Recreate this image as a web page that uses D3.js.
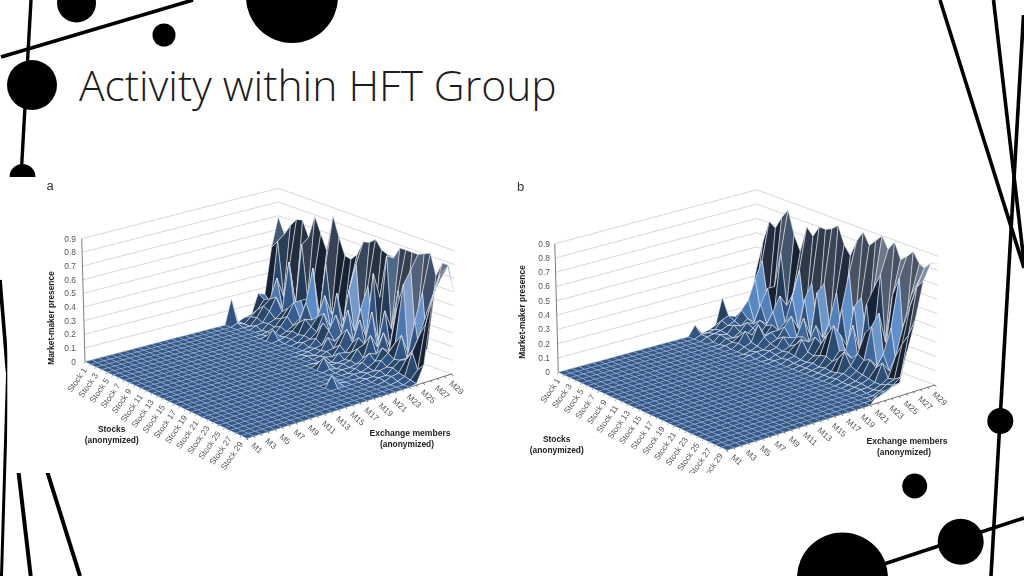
<!DOCTYPE html>
<html><head><meta charset="utf-8">
<style>html,body{margin:0;padding:0;background:#fff;overflow:hidden}svg{display:block}</style>
<script src="https://d3js.org/d3.v7.min.js"></script></head><body>
<svg id="c" width="1024" height="576" viewBox="0 0 1024 576"></svg>
<script>
const title = "Activity within HFT Group";
const stockNames = d3.range(1,31).map(i=>"Stock "+i);
const memberNames = d3.range(1,31).map(i=>"M"+i);
const stockTicks = ["Stock 1","Stock 3","Stock 5","Stock 7","Stock 9","Stock 11","Stock 13","Stock 15","Stock 17","Stock 19","Stock 21","Stock 23","Stock 25","Stock 27","Stock 29"];
const memberTicks = ["M1","M3","M5","M7","M9","M11","M13","M15","M17","M19","M21","M23","M25","M27","M29"];
const presenceTicks = [0,0.1,0.2,0.3,0.4,0.5,0.6,0.7,0.8,0.9];
// members M1..M17 read as 0 everywhere; columns below are M18..M30, rows Stock 1..Stock 30
const presenceA = [
[0,0,0,0,0,.18,0,.02,.03,.17,.15,.48,.69],
[0,0,0,0,0,.02,0,.04,.08,.14,.1,.54,.58],
[0,0,0,0,0,0,0,.05,.12,.16,.3,.15,.66],
[0,0,0,0,0,0,.02,.03,.1,.19,.08,.4,.72],
[0,0,0,0,0,0,0,.04,.06,.1,.45,.12,.73],
[0,0,0,0,0,0,.01,.03,.08,.14,.1,.58,.62],
[0,0,0,0,0,.01,0,.05,.11,.2,.2,.2,.79],
[0,0,0,0,0,.07,.01,.03,.06,.1,.08,.35,.68],
[0,0,0,0,0,.01,.02,.05,.1,.23,.47,.1,.57],
[0,0,0,0,0,0,.02,.04,.14,.12,.1,.5,.84],
[0,0,0,0,0,0,.01,.05,.1,.16,.3,.15,.7],
[0,0,0,0,0,0,.03,.04,.08,.2,.08,.25,.58],
[0,0,0,0,0,0,.01,.06,.16,.08,.35,.12,.57],
[0,0,0,0,0,.01,.02,.03,.12,.22,.1,.4,.62],
[0,0,0,0,.01,0,.02,.1,.06,.1,.4,.58,.73],
[0,0,0,0,0,.01,.03,.04,.12,.29,.12,.1,.74],
[0,0,0,0,0,.02,.01,.08,.18,.08,.3,.45,.78],
[0,0,0,.02,0,0,.05,.04,.1,.25,.1,.1,.72],
[0,0,0,.08,.01,.01,.02,.06,.15,.08,.59,.4,.7],
[0,0,0,.01,0,.02,.03,.1,.12,.34,.1,.72,.69],
[0,0,0,0,.01,.01,.02,.05,.2,.1,.35,.2,.78],
[0,0,0,0,0,.02,.05,.1,.08,.22,.1,.5,.78],
[0,0,0,0,.01,.01,.03,.06,.14,.1,.4,.15,.78],
[.08,.01,0,0,0,.02,.02,.08,.12,.18,.59,.68,.78],
[0,0,0,0,.01,.01,.04,.05,.09,.25,.1,.2,.8],
[0,0,0,0,0,.02,.02,.06,.1,.1,.35,.55,.82],
[0,0,0,0,0,.01,.03,.04,.12,.18,.12,.15,.67],
[0,0,0,0,0,0,.01,.03,.19,.3,.45,.6,.78],
[0,0,0,0,0,0,0,.02,.08,.4,.6,.7,.78],
[0,0,0,0,0,0,0,.01,.13,.6,.76,.8,.6]];
const presenceB = [
[0,0,0,.07,0,.01,.03,.21,.05,.04,.06,.13,.35],
[0,0,0,.02,.02,.03,.08,.1,.08,.1,.12,.2,.55],
[0,0,0,.02,.03,.04,.06,.08,.14,.2,.33,.45,.71],
[0,0,0,0,.04,.03,.08,.06,.1,.06,.08,.15,.68],
[0,0,0,0,.03,.02,.05,.1,.08,.2,.3,.3,.77],
[0,0,0,.01,.02,.05,.04,.08,.12,.08,.1,.55,.84],
[0,0,0,0,.03,.1,.06,.05,.1,.18,.28,.2,.68],
[0,0,0,0,.02,.04,.15,.06,.12,.06,.08,.3,.58],
[0,0,0,0,.01,.03,.08,.1,.1,.14,.3,.48,.77],
[0,0,0,.01,.02,.02,.05,.07,.14,.2,.1,.15,.72],
[0,0,0,0,.01,.03,.04,.1,.08,.06,.32,.42,.8],
[0,0,0,0,0,.02,.03,.05,.1,.22,.08,.12,.8],
[0,0,0,0,.01,.01,.04,.08,.12,.06,.4,.45,.82],
[0,0,0,0,0,.02,.03,.13,.1,.2,.1,.15,.86],
[0,0,0,0,0,.01,.02,.06,.15,.08,.22,.42,.74],
[0,0,0,0,0,.01,.02,.05,.12,.18,.08,.12,.68],
[0,0,0,0,0,.01,.03,.07,.2,.06,.35,.59,.8],
[0,0,0,0,0,.01,.02,.08,.28,.2,.1,.2,.88],
[0,0,0,0,0,.01,.03,.06,.12,.08,.4,.45,.8],
[0,0,0,0,0,.01,.02,.1,.14,.3,.1,.15,.85],
[0,0,0,0,0,.01,.03,.16,.1,.06,.45,.55,.9],
[0,0,0,0,0,.02,.04,.08,.15,.28,.1,.66,.82],
[0,0,0,0,0,.01,.03,.06,.12,.34,.42,.2,.89],
[0,0,0,0,0,.01,.02,.05,.14,.08,.1,.55,.78],
[0,0,0,0,0,.01,.02,.04,.1,.18,.35,.68,.82],
[0,0,0,0,0,.01,.01,.03,.15,.08,.1,.2,.87],
[0,0,0,0,0,0,.01,.03,.06,.2,.4,.6,.8],
[0,0,0,0,0,0,.02,.05,.07,.3,.55,.7,.78],
[0,0,0,0,0,.01,.03,.06,.1,.38,.7,.82,.84],
[0,0,0,0,.06,.07,.08,.09,.3,.5,.76,.87,.85]];

const svg = d3.select("#c");
const defs = svg.append("defs");
defs.append("filter").attr("id","soft").append("feGaussianBlur").attr("stdDeviation",0.4);
defs.append("clipPath").attr("id","box").append("rect").attr("x",7.3).attr("y",177).attr("width",960).attr("height",296);

// slide decoration
const deco = svg.append("g").attr("stroke","#000").attr("fill","#000").attr("stroke-linecap","butt");
[[1,57,193,0,3.6],[31,0,21.7,165,3.4],[0,280,7.5,372,3.6],[7.6,372,1.5,576,3],[18.3,470,30.7,576,4],[46.7,470,80,576,4],
 [940,0,1024,268,3.6],[993.5,0,1024,262,3.6],[1023.5,15,991,576,3.6],[884,564,1024,518,3.6]]
 .forEach(d=>deco.append("line").attr("x1",d[0]).attr("y1",d[1]).attr("x2",d[2]).attr("y2",d[3]).attr("stroke-width",d[4]));
[[76.5,3,19.5],[164,35,11.5],[292,-3,46],[32,85,25],[22.5,177,13],[1000.3,421,13],[960.7,541.7,23],[914.7,486,12.5],[842.5,578,45.5]]
 .forEach(d=>deco.append("circle").attr("cx",d[0]).attr("cy",d[1]).attr("r",d[2]).attr("stroke","none"));
svg.append("rect").attr("x",7.3).attr("y",177).attr("width",955).attr("height",296).attr("fill","#fff");

svg.append("text").text(title).attr("x",79).attr("y",101)
  .attr("font-family","'Open Sans',sans-serif").attr("font-weight",300).attr("font-size",42.6).attr("fill","#1c1c1c");

const shade = d3.scaleLinear()
  .domain([-.6,-.35,-.1,0,.05,.16])
  .range(["#dfe5f2","#8fa4c6","#5f90cc","#34598a","#26405f","#162030"])
  .clamp(true);
const tint = d3.scaleLinear().domain([.45,.85]).range([0,.7]).clamp(true);
const paint = c=>d3.interpolateRgb(shade(.7*c.b+.7*c.a),"#c6cfe2")(tint(d3.mean(c.z)));
const isFlat = c=>d3.max(c.z)===0;

function panel(cfg, tail){
  const g = svg.append("g").attr("clip-path","url(#box)");
  const pad = 30 - tail[0].length;
  const grid = tail.map(r=>d3.range(pad).map(()=>0).concat(r));
  const u = d3.scaleLinear().domain([0,stockNames.length-1]).range([0,1]);
  const v = d3.scaleLinear().domain([0,memberNames.length-1]).range([0,1]);
  const zs = d3.scaleLinear().domain([0,.9]).range([0,cfg.wall]);
  const near = d3.interpolate(cfg.L,cfg.F), far = d3.interpolate(cfg.B,cfg.R);
  const floor = (s,m)=>d3.interpolate(near(u(s)),far(u(s)))(v(m));
  const project = (s,m,z)=>{
    const p = floor(s,m);
    const side = (p[0]-cfg.B[0])/(p[0]<cfg.B[0]?cfg.B[0]-cfg.L[0]:cfg.R[0]-cfg.B[0]);
    return [p[0]+side*cfg.tilt*(z/.9), p[1]-zs(z)];
  };
  const path = d3.line();
  // walls
  g.append("g").selectAll("path").data(presenceTicks).join("path")
    .attr("d",t=>path([project(0,0,t),project(0,29,t),project(29,29,t)]))
    .attr("fill","none").attr("stroke","#cdcdcd").attr("stroke-width",.8);
  g.append("path").attr("d",path([project(0,0,0),project(0,0,.9)])).attr("stroke","#444").attr("stroke-width",.7);
  // ticks on member axis
  const ax = g.append("g").attr("stroke","#333").attr("stroke-width",.7).attr("fill","none");
  ax.append("path").attr("d",path([floor(29,0),floor(29,29)]));
  ax.selectAll(".t").data(d3.range(30)).join("path").attr("class","t")
    .attr("d",m=>{const p=floor(29,m);return path([p,[p[0]+1.2,p[1]+1.8]]);});
  ax.selectAll(".s").data(d3.range(30)).join("path").attr("class","s")
    .attr("d",s=>{const p=floor(s,0);return path([p,[p[0]-1.2,p[1]+1.8]]);}).attr("stroke","#777");
  // surface
  const cells=[];
  d3.range(29).forEach(s=>d3.range(29).forEach(m=>{
    const z=[grid[s][m],grid[s+1][m],grid[s+1][m+1],grid[s][m+1]];
    cells.push({s,m,z,a:((z[1]-z[0])+(z[2]-z[3]))/2,b:((z[3]-z[0])+(z[2]-z[1]))/2});
  }));
  cells.sort((p,q)=>d3.ascending(p.s-p.m,q.s-q.m));
  g.append("g").attr("filter","url(#soft)").selectAll("path").data(cells).join("path")
    .attr("d",c=>path([project(c.s,c.m,c.z[0]),project(c.s+1,c.m,c.z[1]),project(c.s+1,c.m+1,c.z[2]),project(c.s,c.m+1,c.z[3])])+"Z")
    .attr("fill",paint)
    .attr("stroke",c=>isFlat(c)?"#c9d9ea":"#e6edf5").attr("stroke-opacity",c=>isFlat(c)?.55:.9)
    .attr("stroke-width",c=>isFlat(c)?.5:.6).attr("stroke-linejoin","round");
  // labels
  const txt = g.append("g").attr("font-family","'Liberation Sans',Arial,sans-serif").attr("filter","url(#soft)");
  txt.selectAll(".y").data(presenceTicks).join("text").text(d=>d)
    .attr("x",cfg.yx).attr("y",d=>cfg.L[1]-zs(d)+2.8).attr("text-anchor","end").attr("font-size",8.4).attr("fill","#555");
  txt.selectAll(".st").data(stockTicks).join("text").text(d=>d)
    .attr("transform",d=>{const p=floor(stockNames.indexOf(d),0);return `translate(${p[0]+2.3},${p[1]+8.5}) rotate(-55)`;})
    .attr("text-anchor","end").attr("font-size",8.3).attr("fill","#555");
  txt.selectAll(".mt").data(memberTicks).join("text").text(d=>d)
    .attr("transform",d=>{const p=floor(29,memberNames.indexOf(d));return `translate(${p[0]+4},${p[1]+8}) rotate(42)`;})
    .attr("font-size",8.3).attr("fill","#555");
  const bold = (t,x,y,fs,rot)=>txt.append("text").text(t).attr("text-anchor","middle").attr("font-weight",700).attr("font-size",fs).attr("fill","#222")
    .attr("transform",`translate(${x},${y})`+(rot?` rotate(${rot})`:""));
  bold("Market-maker presence",cfg.tx[0],cfg.tx[1],8.4,-90);
  bold("Stocks",cfg.st[0],cfg.st[1],8.4);
  bold("(anonymized)",cfg.st[0],cfg.st[1]+11,8.4);
  bold("Exchange members",cfg.ex[0],cfg.ex[1],8.6);
  bold("(anonymized)",cfg.ex2[0],cfg.ex2[1],8.4);
  txt.append("text").text(cfg.tag).attr("x",cfg.tag_x).attr("y",cfg.tag_y).attr("text-anchor","middle").attr("font-size",13).attr("fill","#333");
}
panel({tag:"a",tag_x:50,tag_y:190,L:[85,361.7],F:[246.7,438.3],R:[451.7,374],B:[278.3,311.3],wall:123,tilt:3.3,yx:76,
  tx:[53.5,318],st:[111.7,432],ex:[410,436],ex2:[407,447]},presenceA);
panel({tag:"b",tag_x:520.6,tag_y:191,L:[558.3,372.3],F:[726.7,450],R:[935,385],B:[756.7,318.3],wall:128.5,tilt:3.5,yx:550,
  tx:[525,312],st:[556.7,442],ex:[907,444],ex2:[904,455]},presenceB);
</script></body></html>
